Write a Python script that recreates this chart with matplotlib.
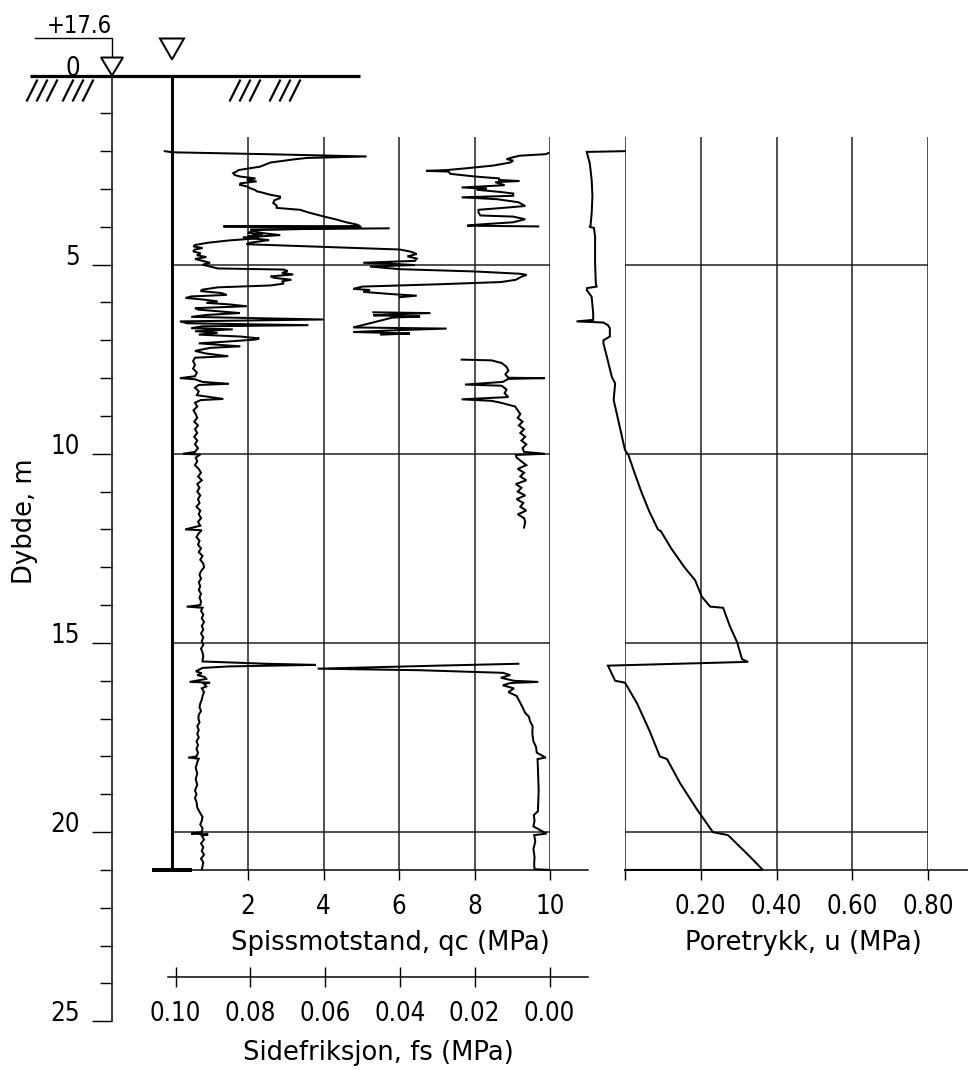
import matplotlib
matplotlib.use("Agg")
import matplotlib.pyplot as plt
from matplotlib import font_manager as fm
from matplotlib.ticker import FixedLocator, MultipleLocator, NullFormatter
from matplotlib.transforms import blended_transform_factory
from matplotlib.patches import Polygon

NAN = float("nan")

# ---------------------------------------------------------------- data
# Cone resistance qc (MPa) against depth (m)
qc_depth = [2.00, 2.03, 2.08, 2.14, 2.18, 2.22, 2.30, 2.41, 2.50, 2.54, 2.58, 2.63, 2.67, 2.72,
            2.76, 2.80, 2.85, 2.89, 2.94, 2.98, 3.03, 3.06, 3.10, 3.15, 3.20, 3.24, 3.30, 3.37,
            3.44, 3.50, 3.55, 3.62, 3.68, 3.75, 3.81, 3.88, 3.94, 3.98, 3.99, 4.01, 4.04, 4.08,
            4.12, 4.16, 4.20, 4.25, 4.30, 4.36, 4.42, 4.48, 4.52, 4.56, 4.60, 4.65, 4.70, 4.75,
            4.80, 4.85, 4.90, 4.95, 5.00, 5.05, 5.10, 5.13, 5.17, 5.22, 5.26, 5.31, 5.35, 5.40,
            5.44, 5.50, 5.55, 5.60, 5.66, 5.70, 5.75, 5.80, 5.84, 5.88, 5.92, 5.97, 6.01, 6.05,
            6.10, 6.15, 6.19, 6.24, 6.28, 6.33, 6.38, 6.45, 6.50, 6.55, 6.60, 6.63, 6.68, 6.71,
            6.76, 6.80, 6.85, 6.90, 6.95, 6.98, 7.03, 7.08, 7.16, 7.20, 7.28, 7.35, 7.42, 7.46,
            7.55, 7.65, 7.75, 7.85, 7.95, 8.00, 8.03, 8.10, 8.15, 8.18, 8.25, 8.35, 8.45, 8.55,
            8.58, 8.65, 8.75, 8.85, 8.95, 9.05, 9.15, 9.25, 9.35, 9.45, 9.55, 9.65, 9.75, 9.85,
            9.95, 10.00, 10.02, 10.10, 10.20, 10.30, 10.40, 10.50, 10.60, 10.70, 10.80, 10.90,
            11.00, 11.10, 11.20, 11.30, 11.40, 11.50, 11.60, 11.70, 11.80, 11.90, 12.00, 12.02,
            12.10, 12.20, 12.30, 12.40, 12.50, 12.60, 12.70, 12.80, 12.90, 13.00, 13.10, 13.20,
            13.30, 13.40, 13.50, 13.60, 13.70, 13.80, 13.90, 14.00, 14.04, 14.07, 14.15, 14.25,
            14.35, 14.45, 14.55, 14.65, 14.75, 14.85, 14.95, 15.05, 15.15, 15.25, 15.35, 15.45,
            15.49, 15.55, 15.58, 15.62, 15.66, 15.70, 15.75, 15.80, 15.85, 15.90, 15.95, 16.03,
            16.05, 16.08, 16.15, 16.20, 16.30, 16.40, 16.50, 16.60, 16.70, 16.80, 16.90, 17.00,
            17.10, 17.20, 17.30, 17.40, 17.50, 17.60, 17.70, 17.80, 17.90, 18.00, 18.03, 18.06,
            18.15, 18.30, 18.45, 18.60, 18.75, 18.90, 19.00, 19.10, 19.20, 19.35, 19.50, 19.60,
            19.70, 19.80, 19.90, 20.00, 20.04, 20.06, 20.10, 20.20, 20.30, 20.40, 20.50, 20.60,
            20.70, 20.80, 20.90, 20.98]
qc_value = [-0.20, 0.00, 2.50, 5.14, 3.55, 3.20, 2.60, 2.32, 1.75, 1.70, 1.61, 1.65, 1.79, 2.20,
            1.97, 2.23, 1.80, 1.79, 2.00, 2.06, 2.20, 2.23, 2.40, 2.58, 2.85, 2.85, 2.70, 2.67,
            2.76, 2.76, 3.38, 3.60, 3.83, 4.10, 4.35, 4.60, 4.88, 4.97, 1.35, 5.00, 4.20, 2.40,
            2.10, 2.00, 2.40, 2.00, 2.30, 1.50, 0.95, 0.60, 0.56, 0.80, 0.60, 0.55, 0.75, 0.65,
            0.90, 0.60, 0.80, 1.00, 0.80, 1.00, 1.20, 2.95, 3.05, 2.90, 3.20, 2.60, 2.70, 3.15,
            2.90, 2.95, 2.60, 1.20, 0.80, 0.75, 1.30, 1.44, 0.50, 0.35, 0.80, 1.20, 0.90, 1.50,
            1.97, 0.60, 0.70, 1.30, 1.79, 0.90, 0.50, 4.00, 0.20, 0.40, 3.60, 0.80, 0.50, 1.60,
            0.60, 1.20, 0.70, 1.80, 2.30, 2.20, 1.50, 0.70, 1.80, 1.00, 0.60, 0.90, 1.48, 0.60,
            0.55, 0.60, 0.55, 0.65, 0.60, 0.20, 0.60, 0.80, 1.50, 0.70, 0.60, 0.70, 0.65, 1.35,
            0.75, 0.60, 0.66, 0.56, 0.62, 0.66, 0.58, 0.68, 0.60, 0.66, 0.58, 0.66, 0.60, 0.68,
            0.60, 0.28, 0.74, 0.62, 0.66, 0.60, 0.70, 0.76, 0.68, 0.78, 0.66, 0.72,
            0.66, 0.74, 0.68, 0.72, 0.64, 0.74, 0.70, 0.76, 0.68, 0.74, 0.34, 0.78,
            0.70, 0.64, 0.72, 0.68, 0.76, 0.70, 0.80, 0.74, 0.82, 0.84, 0.76, 0.72,
            0.76, 0.70, 0.74, 0.70, 0.76, 0.72, 0.76, 0.74, 0.38, 0.80, 0.76, 0.82,
            0.78, 0.84, 0.78, 0.82, 0.76, 0.82, 0.78, 0.82, 0.76, 0.80, 0.82, 0.80,
            0.80, 2.50, 3.80, 1.50, 0.80, 0.72, 0.62, 0.78, 0.66, 0.86, 0.90, 0.46,
            1.00, 0.84, 0.90, 0.78, 0.84, 0.80, 0.78, 0.74, 0.72, 0.76, 0.70, 0.69,
            0.72, 0.66, 0.70, 0.66, 0.70, 0.64, 0.68, 0.64, 0.68, 0.64, 0.42, 0.70,
            0.66, 0.62, 0.66, 0.62, 0.66, 0.60, 0.64, 0.60, 0.64, 0.66, 0.74, 0.80,
            0.78, 0.74, 0.80, 0.78, 0.50, 0.95, 0.78, 0.84, 0.76, 0.82, 0.78, 0.84,
            0.76, 0.82, 0.80, 0.78]

# Sleeve friction fs (MPa); NaN marks gaps in the record
fs_depth = [2.05, 2.08, 2.12, 2.16, 2.21, 2.25, 2.30, 2.38, 2.45, 2.50, 2.52, 2.54, 2.60, 2.67,
            2.72, 2.76, 2.79, 2.82, 2.90, 2.96, 2.99, 3.02, 3.08, 3.12, 3.18, 3.22, 3.27, 3.35,
            3.45, 3.50, 3.55, 3.62, 3.70, 3.73, 3.80, 3.88, 3.94, 3.97, 3.99, NAN,
            4.04, 4.07, 4.15, 4.22, 4.28, 4.35, 4.42, 4.46, 4.60, 4.66, 4.72, 4.78, 4.84, 4.90,
            4.95, 4.98, 5.01, 5.05, 5.12, 5.18, 5.24, 5.27, 5.32, 5.40, 5.46, 5.52, 5.58, 5.64,
            5.67, 5.72, 5.78, 5.82, 5.86, NAN,
            6.26, 6.28, 6.31, 6.34, 6.37, 6.40, 6.66, 6.69, 6.73, 6.78, 6.82, 6.85, NAN,
            7.51, 7.53, 7.60, 7.70, 7.80, 7.90, 7.99, 8.00, 8.02, 8.10, 8.17, 8.20, 8.30, 8.40,
            8.50, 8.56, 8.60, 8.65, 8.75, 8.85, 8.95, 9.05, 9.15, 9.25, 9.35, 9.45, 9.55, 9.65,
            9.75, 9.85, 9.95, 10.00, 10.03, 10.10, 10.20, 10.30, 10.40, 10.50, 10.60, 10.70,
            10.80, 10.90, 11.00, 11.10, 11.20, 11.30, 11.40, 11.50, 11.60, 11.70, 11.80, 11.95, NAN,
            15.55, 15.60, 15.68, 15.72, 15.79, 15.85, 15.92, 16.00, 16.03, 16.06, 16.12, 16.20,
            16.30, 16.40, 16.55, 16.70, 16.85, 16.95, 17.07, 17.20, 17.40, 17.60, 17.75, 17.90,
            18.03, 18.07, 18.30, 18.60, 18.90, 19.20, 19.45, 19.55, 19.70, 19.85, 20.04, 20.08,
            20.25, 20.45, 20.65, 20.85, 20.98, 21.00]
fs_value = [0.0003, 0.0010, 0.0080, 0.0097, 0.0115, 0.0097, 0.0105, 0.0150, 0.0220, 0.0275, 0.0330,
            0.0270, 0.0265, 0.0200, 0.0135, 0.0135, 0.0080, 0.0145, 0.0120, 0.0235, 0.0168, 0.0195,
            0.0130, 0.0097, 0.0097, 0.0235, 0.0140, 0.0083, 0.0065, 0.0125, 0.0190, 0.0190, 0.0185,
            0.0097, 0.0065, 0.0097, 0.0190, 0.0220, 0.0030, NAN,
            0.0430, 0.0800, 0.0780, 0.0720, 0.0820, 0.0750, 0.0800, 0.0810, 0.0400, 0.0370, 0.0355,
            0.0380, 0.0355, 0.0360, 0.0498, 0.0420, 0.0360, 0.0480, 0.0400, 0.0200, 0.0080, 0.0061,
            0.0075, 0.0090, 0.0130, 0.0300, 0.0500, 0.0525, 0.0480, 0.0498, 0.0420, 0.0355, 0.0400, NAN,
            0.0471, 0.0319, 0.0400, 0.0471, 0.0346, 0.0420, 0.0525, 0.0275, 0.0400, 0.0525, 0.0373,
            0.0450, NAN,
            0.0235, 0.0155, 0.0128, 0.0115, 0.0110, 0.0118, 0.0110, 0.0012, 0.0110, 0.0125, 0.0226,
            0.0128, 0.0115, 0.0120, 0.0110, 0.0235, 0.0155, 0.0130, 0.0092, 0.0085, 0.0078, 0.0085,
            0.0072, 0.0082, 0.0068, 0.0078, 0.0065, 0.0075, 0.0062, 0.0072, 0.0068, 0.0012, 0.0090,
            0.0088, 0.0075, 0.0062, 0.0085, 0.0068, 0.0078, 0.0062, 0.0090, 0.0075, 0.0085, 0.0065,
            0.0088, 0.0070, 0.0078, 0.0062, 0.0085, 0.0068, 0.0065, 0.0068, NAN,
            0.0083, 0.0300, 0.0620, 0.0350, 0.0124, 0.0105, 0.0130, 0.0095, 0.0030, 0.0105, 0.0125,
            0.0095, 0.0110, 0.0088, 0.0080, 0.0072, 0.0065, 0.0055, 0.0052, 0.0045, 0.0046, 0.0043,
            0.0036, 0.0034, 0.0010, 0.0032, 0.0031, 0.0030, 0.0029, 0.0030, 0.0031, 0.0042, 0.0040,
            0.0043, 0.0008, 0.0041, 0.0038, 0.0043, 0.0040, 0.0041, 0.0040, 0.0000]

# Pore pressure u (MPa)
u_depth = [2.00, 2.02, 2.32, 2.76, 3.20, 3.64, 3.97, 4.00, 4.03, 4.26, 4.97, 5.50, 5.58, 5.62,
           5.67, 5.85, 6.29, 6.46, 6.50, 6.53, 6.60, 6.68, 6.90, 7.00, 7.08, 7.43, 7.96, 8.14,
           8.58, 8.75, 9.90, 10.03, 10.50, 11.00, 11.50, 12.00, 12.05, 12.50, 13.00, 13.34,
           13.78, 14.04, 14.07, 14.56, 14.98, 15.43, 15.50, 15.60, 16.00, 16.05, 16.60, 17.35,
           18.00, 18.07, 18.70, 19.40, 20.00, 20.08, 20.65, 21.00, 21.00]
u_value = [0.000, -0.101, -0.093, -0.088, -0.086, -0.088, -0.091, -0.094, -0.082, -0.079,
           -0.079, -0.077, -0.075, -0.100, -0.101, -0.088, -0.084, -0.084, -0.128, -0.057,
           -0.045, -0.040, -0.040, -0.057, -0.057, -0.048, -0.035, -0.026, -0.030, -0.026,
           0.000, 0.009, 0.025, 0.043, 0.063, 0.087, 0.095, 0.122, 0.157, 0.185, 0.203, 0.225,
           0.259, 0.277, 0.296, 0.309, 0.325, -0.045, -0.026, 0.000, 0.032, 0.066, 0.092, 0.111,
           0.145, 0.190, 0.232, 0.272, 0.330, 0.364, 0.000]

depth_major = [5, 10, 15, 20, 25]
depth_labels = ["0", "5", "10", "15", "20", "25"]
qc_ticks = [2, 4, 6, 8, 10]
fs_ticks = [0.10, 0.08, 0.06, 0.04, 0.02, 0.00]
u_ticks = [0.0, 0.2, 0.4, 0.6, 0.8]
grid_depths = [5, 10, 15, 20]

GROUND_LEVEL = "+17.6"
GRID_TOP = 1.62
END_DEPTH = 21.0

# ---------------------------------------------------------------- layout
W, H, DPI = 968, 1070, 100
PT = 72.0 / DPI          # points per pixel
Y_TOP, PX_PER_M = 75.5, 37.83


def ypx(d):
    return Y_TOP + PX_PER_M * d


def rect(x0, x1, y0, y1):
    return [x0 / W, 1 - y1 / H, (x1 - x0) / W, (y1 - y0) / H]


def font_file(**kw):
    try:
        return fm.findfont(fm.FontProperties(**kw), fallback_to_default=False)
    except Exception:
        return ""


# narrow face for numbers, regular face for words
NUM_STRETCH = "normal"
if "Condensed" in font_file(family="DejaVu Sans", stretch="condensed"):
    NUM_FONT, NUM_STRETCH, NUM_SIZE = "DejaVu Sans", "condensed", 18.5
elif font_file(family="Roboto"):
    NUM_FONT, NUM_SIZE = "Roboto", 19.0
else:
    NUM_FONT, NUM_SIZE = "DejaVu Sans", 17.5
WORD_FONT, WORD_SIZE = "DejaVu Sans", 18.6

plt.rcParams["font.family"] = [NUM_FONT, "DejaVu Sans"]
plt.rcParams["font.stretch"] = NUM_STRETCH
plt.rcParams["axes.linewidth"] = 1.5 * PT

INK = "black"
GRID_KW = dict(color="#1c1c1c", lw=1.5 * PT, zorder=1)
LINE_KW = dict(color="black", lw=2.0 * PT, zorder=3, solid_joinstyle="miter")

fig = plt.figure(figsize=(W / DPI, H / DPI), dpi=DPI)
fig.patch.set_facecolor("white")


def bare(ax):
    ax.patch.set_visible(False)
    for s in ax.spines.values():
        s.set_visible(False)
    ax.set_xticks([])
    ax.set_yticks([])


# depth scale
ax_d = fig.add_axes(rect(112, 113, ypx(0), ypx(25)))
bare(ax_d)
ax_d.set_ylim(25, 0)
ax_d.spines["left"].set_visible(True)
ax_d.spines["left"].set_color(INK)
ax_d.yaxis.set_major_locator(FixedLocator(depth_major))
ax_d.yaxis.set_minor_locator(MultipleLocator(1))
ax_d.yaxis.set_major_formatter(NullFormatter())
ax_d.tick_params(axis="y", which="major", direction="out", length=20 * PT, width=1.4 * PT,
                 color=INK, labelleft=False)
ax_d.tick_params(axis="y", which="minor", direction="out", length=12 * PT, width=1.4 * PT,
                 color=INK)
lab_tr = blended_transform_factory(fig.transFigure, ax_d.transData)
for d, s in zip([0] + depth_major, depth_labels):
    ax_d.text(80 / W, d, s, transform=lab_tr, ha="right", va="baseline",
              fontsize=NUM_SIZE, color=INK)

# cone resistance panel
ax_q = fig.add_axes(rect(172.3, 550.3, ypx(0), ypx(END_DEPTH)))
bare(ax_q)
ax_q.set_xlim(0, 10)
ax_q.set_ylim(END_DEPTH, 0)
ax_q.spines["left"].set_visible(True)
ax_q.spines["left"].set_linewidth(3.0 * PT)
ax_q.spines["bottom"].set_visible(True)
ax_q.spines["bottom"].set_bounds(0, 11.0)
ax_q.spines["bottom"].set_color(INK)
ax_q.set_xticks(qc_ticks)
ax_q.set_xticklabels([str(t) for t in qc_ticks])
ax_q.tick_params(axis="x", direction="out", length=10 * PT, width=1.4 * PT, color=INK,
                 pad=10, labelsize=NUM_SIZE, labelcolor=INK)
ax_q.vlines(qc_ticks, GRID_TOP, END_DEPTH, **GRID_KW)
ax_q.hlines(grid_depths, 0, 10, **GRID_KW)
ax_q.plot(qc_value, qc_depth, clip_on=False, **LINE_KW)
ax_q.plot([-0.53, 0.53], [END_DEPTH, END_DEPTH], color="black", lw=4 * PT,
          solid_capstyle="butt", clip_on=False, zorder=4)

# sleeve friction, plotted on a reversed scale in the same panel
ax_f = fig.add_axes(rect(175.5, 549.5, ypx(0), ypx(END_DEPTH)))
bare(ax_f)
ax_f.set_xlim(0.10, 0.0)
ax_f.set_ylim(END_DEPTH, 0)
ax_f.spines["bottom"].set_visible(True)
ax_f.spines["bottom"].set_position(("outward", 107 * PT))
ax_f.spines["bottom"].set_bounds(0.102, -0.0103)
ax_f.spines["bottom"].set_color(INK)
ax_f.set_xticks(fs_ticks)
ax_f.set_xticklabels([f"{t:.2f}" for t in fs_ticks])
ax_f.tick_params(axis="x", direction="inout", length=20 * PT, width=1.4 * PT, color=INK,
                 pad=10, labelsize=NUM_SIZE, labelcolor=INK)
ax_f.plot(fs_value, fs_depth, clip_on=False, **LINE_KW)

# pore pressure panel
ax_u = fig.add_axes(rect(625, 928, ypx(0), ypx(END_DEPTH)))
bare(ax_u)
ax_u.set_xlim(0, 0.8)
ax_u.set_ylim(END_DEPTH, 0)
ax_u.spines["bottom"].set_visible(True)
ax_u.spines["bottom"].set_bounds(0, 0.906)
ax_u.spines["bottom"].set_color(INK)
ax_u.set_xticks(u_ticks)
ax_u.set_xticklabels(["" if t == 0 else f"{t:.2f}" for t in u_ticks])
ax_u.tick_params(axis="x", direction="out", length=10 * PT, width=1.4 * PT, color=INK,
                 pad=10, labelsize=NUM_SIZE, labelcolor=INK)
ax_u.vlines(u_ticks, GRID_TOP, END_DEPTH, **GRID_KW)
ax_u.hlines(grid_depths, 0, 0.8, **GRID_KW)
ax_u.plot(u_value, u_depth, clip_on=False, **LINE_KW)

# axis titles
title_kw = dict(ha="center", va="center", family=WORD_FONT, stretch="normal",
                fontsize=WORD_SIZE, color=INK)
fig.text(390 / W, 1 - 943 / H, "Spissmotstand, qc (MPa)", **title_kw)
fig.text(378 / W, 1 - 1053 / H, "Sidefriksjon, fs (MPa)", **title_kw)
fig.text(803 / W, 1 - 943 / H, "Poretrykk, u (MPa)", **title_kw)
fig.text(25 / W, 1 - 521 / H, "Dybde, m", rotation=90, **title_kw)

# terrain, rod head and water-level symbols (pixel space overlay)
ax_s = fig.add_axes([0, 0, 1, 1])
ax_s.set_xlim(0, W)
ax_s.set_ylim(H, 0)
ax_s.axis("off")
ax_s.patch.set_visible(False)
g = ypx(0)
ax_s.plot([30, 360], [g, g], color="black", lw=3.2 * PT, solid_capstyle="butt", zorder=6)
for x0 in [27, 37, 47, 63, 73, 83, 230, 240, 250, 270, 280, 290]:
    ax_s.plot([x0, x0 + 10], [g + 25, g + 5], color="black", lw=2.2 * PT, zorder=6)
for (cx, top, bot, hw) in [(112, g - 18, g, 11), (172, g - 37, g - 16, 12)]:
    ax_s.add_patch(Polygon([(cx - hw, top), (cx + hw, top), (cx, bot)], closed=True,
                           facecolor="white", edgecolor="black", lw=2.0 * PT, zorder=7))
ax_s.plot([35, 112, 112], [38, 38, g - 18], color=INK, lw=1.4 * PT, zorder=6)
ax_s.text(112, 33, GROUND_LEVEL, ha="right", va="baseline", fontsize=NUM_SIZE - 1.5,
          color=INK)

fig.savefig("out.png", dpi=DPI, facecolor="white")
